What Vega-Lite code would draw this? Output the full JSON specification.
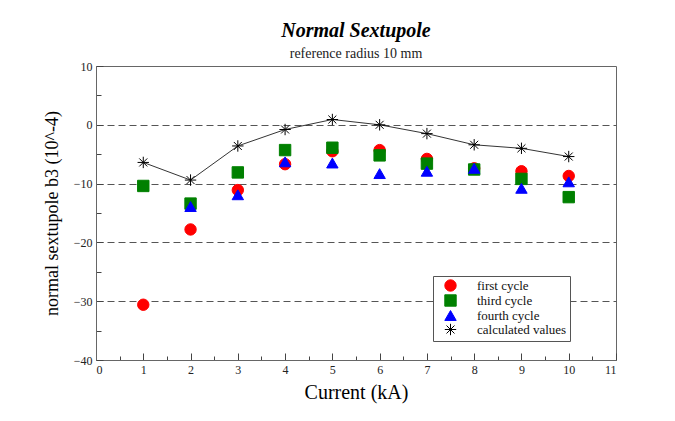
{
  "$schema": "https://vega.github.io/schema/vega-lite/v6.json",
  "width": 520,
  "height": 294,
  "autosize": "none",
  "padding": {"left": 96, "top": 66, "right": 59, "bottom": 61},
  "background": "white",
  "title": {
    "text": "Normal Sextupole",
    "subtitle": "reference radius 10 mm",
    "font": "Liberation Serif",
    "fontSize": 20,
    "fontWeight": "bold",
    "fontStyle": "italic",
    "color": "black",
    "subtitleFont": "Liberation Serif",
    "subtitleFontSize": 14,
    "subtitleColor": "#222",
    "subtitlePadding": 6,
    "anchor": "middle",
    "frame": "group",
    "offset": -1
  },
  "data": {
    "values": [
      {"I": 1, "b3": -30.6, "series": "first cycle"},
      {"I": 2, "b3": -17.8, "series": "first cycle"},
      {"I": 3, "b3": -11.1, "series": "first cycle"},
      {"I": 4, "b3": -6.7, "series": "first cycle"},
      {"I": 5, "b3": -4.5, "series": "first cycle"},
      {"I": 6, "b3": -4.3, "series": "first cycle"},
      {"I": 7, "b3": -5.8, "series": "first cycle"},
      {"I": 8, "b3": -7.4, "series": "first cycle"},
      {"I": 9, "b3": -7.9, "series": "first cycle"},
      {"I": 10, "b3": -8.7, "series": "first cycle"},
      {"I": 1, "b3": -10.4, "series": "third cycle"},
      {"I": 2, "b3": -13.4, "series": "third cycle"},
      {"I": 3, "b3": -8.1, "series": "third cycle"},
      {"I": 4, "b3": -4.3, "series": "third cycle"},
      {"I": 5, "b3": -3.9, "series": "third cycle"},
      {"I": 6, "b3": -5.2, "series": "third cycle"},
      {"I": 7, "b3": -6.6, "series": "third cycle"},
      {"I": 8, "b3": -7.6, "series": "third cycle"},
      {"I": 9, "b3": -9.2, "series": "third cycle"},
      {"I": 10, "b3": -12.3, "series": "third cycle"},
      {"I": 2, "b3": -13.9, "series": "fourth cycle"},
      {"I": 3, "b3": -11.9, "series": "fourth cycle"},
      {"I": 4, "b3": -6.3, "series": "fourth cycle"},
      {"I": 5, "b3": -6.5, "series": "fourth cycle"},
      {"I": 6, "b3": -8.3, "series": "fourth cycle"},
      {"I": 7, "b3": -7.9, "series": "fourth cycle"},
      {"I": 8, "b3": -7.4, "series": "fourth cycle"},
      {"I": 9, "b3": -10.8, "series": "fourth cycle"},
      {"I": 10, "b3": -9.7, "series": "fourth cycle"},
      {"I": 1, "b3": -6.4, "series": "calculated values"},
      {"I": 2, "b3": -9.4, "series": "calculated values"},
      {"I": 3, "b3": -3.6, "series": "calculated values"},
      {"I": 4, "b3": -0.8, "series": "calculated values"},
      {"I": 5, "b3": 0.9, "series": "calculated values"},
      {"I": 6, "b3": 0.0, "series": "calculated values"},
      {"I": 7, "b3": -1.5, "series": "calculated values"},
      {"I": 8, "b3": -3.4, "series": "calculated values"},
      {"I": 9, "b3": -4.0, "series": "calculated values"},
      {"I": 10, "b3": -5.4, "series": "calculated values"}
    ]
  },
  "encoding": {
    "x": {
      "field": "I",
      "type": "quantitative",
      "scale": {"domain": [0, 11], "nice": false, "zero": false},
      "axis": {
        "title": "Current (kA)",
        "values": [0, 0.5, 1, 1.5, 2, 2.5, 3, 3.5, 4, 4.5, 5, 5.5, 6, 6.5, 7, 7.5, 8, 8.5, 9, 9.5, 10, 10.5, 11],
        "labelExpr": "datum.value % 1 === 0 ? format(datum.value, 'd') : ''",
        "tickSize": {"condition": {"test": "datum.value % 1 === 0", "value": -7}, "value": -4},
        "labelPadding": 11,
        "titlePadding": 7,
        "titleFontSize": 20,
        "grid": false
      }
    },
    "y": {
      "field": "b3",
      "type": "quantitative",
      "scale": {"domain": [-40, 10], "nice": false, "zero": false},
      "axis": {
        "title": "normal sextupole b3 (10^-4)",
        "values": [-40, -35, -30, -25, -20, -15, -10, -5, 0, 5, 10],
        "labelExpr": "datum.value % 10 === 0 ? format(datum.value, 'd') : ''",
        "tickSize": {"condition": {"test": "datum.value % 10 === 0", "value": -7}, "value": -5},
        "labelPadding": 11,
        "titlePadding": 12,
        "grid": true,
        "gridOpacity": {"condition": {"test": "datum.value % 10 === 0 && datum.value > -40 && datum.value < 10", "value": 1}, "value": 0},
        "gridDash": [7, 4],
        "gridColor": "#555",
        "gridWidth": 1
      }
    }
  },
  "layer": [
    {
      "transform": [{"filter": "datum.series === 'calculated values'"}],
      "mark": {"type": "line", "color": "black", "strokeWidth": 0.8}
    },
    {
      "mark": {"type": "point", "filled": true, "size": 130, "strokeWidth": 1, "opacity": 1},
      "encoding": {
        "color": {
          "field": "series",
          "type": "nominal",
          "scale": {"domain": ["first cycle", "third cycle", "fourth cycle", "calculated values"], "range": ["#ff0000", "#008000", "#0000ff", "#000000"]}
        },
        "stroke": {
          "field": "series",
          "type": "nominal",
          "scale": {"domain": ["first cycle", "third cycle", "fourth cycle", "calculated values"], "range": ["#ff0000", "#008000", "#0000ff", "#000000"]}
        },
        "shape": {
          "field": "series",
          "type": "nominal",
          "scale": {"domain": ["first cycle", "third cycle", "fourth cycle", "calculated values"], "range": ["circle", "square", "triangle-up", "M-1,0H1M0,-1V1M-0.7,-0.7L0.7,0.7M-0.7,0.7L0.7,-0.7"]}
        }
      }
    }
  ],
  "config": {
    "view": {"stroke": "#666", "strokeWidth": 1},
    "axis": {
      "labelFont": "Liberation Serif",
      "labelFontSize": 12,
      "labelColor": "#222",
      "titleFont": "Liberation Serif",
      "titleFontSize": 18,
      "titleFontWeight": "normal",
      "titleColor": "black",
      "domainColor": "#666",
      "tickColor": "#444",
      "tickWidth": 1
    },
    "legend": {
      "orient": "none",
      "legendX": 337,
      "legendY": 210,
      "title": null,
      "strokeColor": "#555",
      "fillColor": "white",
      "padding": 3,
      "symbolSize": 130,
      "symbolStrokeWidth": 1,
      "symbolOffset": 8,
      "labelFont": "Liberation Serif",
      "labelFontSize": 13,
      "labelColor": "#111",
      "labelOffset": 20,
      "rowPadding": -2
    }
  }
}
